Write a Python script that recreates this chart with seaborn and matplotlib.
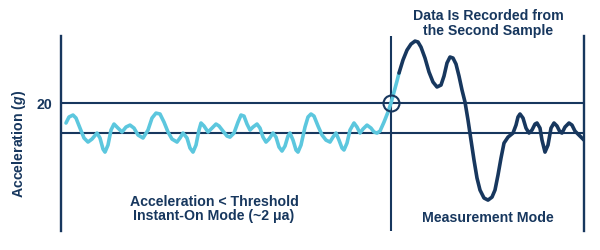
import matplotlib
matplotlib.use("Agg")
import matplotlib.pyplot as plt
import seaborn as sns
import pandas as pd

# ---- data (time in samples, acceleration in g) ----
idle_t = [5, 8, 12, 15, 19, 23, 27, 31, 36, 39, 42, 44, 47, 50, 53, 57, 61, 65, 69, 73,
          77, 82, 87, 91, 95, 99, 103, 107, 111, 116, 119, 122, 126, 129, 132, 135, 138, 140,
          143, 147, 151, 155, 158, 162, 166, 169, 173, 177, 180, 183, 186, 189, 192, 196, 199,
          202, 205, 208, 212, 215, 218, 221, 224, 227, 229, 232, 235, 237, 240, 244, 247, 250,
          253, 257, 261, 265, 269, 272, 275, 278, 281, 283, 286, 289, 293, 296, 299, 302, 306,
          310, 313, 316, 319, 323, 327, 330, 333, 336, 338]
idle_a = [6.7, 10.7, 12.0, 10.0, 3.3, -3.3, -6.0, -4.0, 0.0, -3.3, -10.7, -12.7, -8.0, 2.0,
          6.0, 3.3, 0.7, 4.0, 5.3, 3.3, -1.3, -3.3, 2.0, 10.0, 13.3, 12.7, 7.3, 0.7, -4.0, -6.0,
          -3.3, 0.0, -3.3, -10.0, -12.7, -8.0, 2.0, 6.7, 4.7, 0.7, 3.3, 6.0, 4.7, 1.3, -2.0,
          -2.7, 0.0, 7.3, 12.0, 11.3, 6.0, 2.0, 4.0, 6.0, 3.3, -2.7, -6.0, -4.0, 0.0, -2.7,
          -9.3, -12.0, -8.7, -2.0, 0.0, -4.7, -11.3, -12.7, -8.0, 4.0, 10.7, 12.7, 11.3, 4.7,
          -1.3, -4.7, -6.0, -2.7, 0.0, -4.7, -10.0, -11.3, -6.7, 2.0, 6.7, 4.0, 0.0, 2.7, 5.3,
          3.3, 0.7, 0.0, 1.3, 7.3, 14.0, 20.0, 27.3, 34.7, 40.0]

meas_t = [338, 342, 346, 350, 354, 357, 360, 364, 368, 372, 376, 380, 383, 386, 389, 392,
          395, 398, 401, 404, 407, 410, 413, 416, 419, 423, 427, 431, 434, 437, 440, 443, 447,
          452, 455, 457, 459, 462, 465, 468, 471, 474, 476, 479, 481, 484, 487, 490, 493, 496,
          499, 501, 504, 508, 511, 514, 517, 520, 523]
meas_a = [40.0, 48.7, 55.3, 59.3, 61.3, 60.7, 57.3, 50.0, 40.7, 34.0, 30.7, 32.0, 38.0, 46.7,
          50.7, 50.0, 46.0, 38.0, 28.7, 20.7, 8.7, -4.7, -18.0, -30.0, -38.0, -43.3, -44.7,
          -42.7, -38.0, -28.0, -16.7, -6.7, -2.7, 0.0, 5.3, 10.7, 12.7, 10.0, 3.3, 0.0, 2.0,
          6.0, 6.7, 3.3, -4.7, -12.7, -8.0, 3.3, 6.7, 4.7, 0.7, 0.0, 4.0, 6.7, 5.3, 1.3, -0.7,
          -2.7, -4.7]

threshold = 20
baseline = 0
trigger_t = 330
end_t = 523
ytick_vals = [20]
ytick_labels = ["20"]

# ---- style ----
sns.set_style("white")
plt.rcParams["font.family"] = ["Liberation Sans", "DejaVu Sans"]
plt.rcParams["mathtext.fontset"] = "custom"
plt.rcParams["mathtext.it"] = "Liberation Sans:italic:bold"
plt.rcParams["mathtext.rm"] = "Liberation Sans:bold"

NAVY = "#17375e"
CYAN = "#5cc7de"
FS = 10.2

fig = plt.figure(figsize=(6, 2.5), dpi=100)
ax = fig.add_axes([61 / 600, 19 / 250, 523 / 600, 195 / 250])

df_idle = pd.DataFrame({"t": idle_t, "a": idle_a})
df_meas = pd.DataFrame({"t": meas_t, "a": meas_a})

ax.axhline(threshold, color=NAVY, lw=1.5, zorder=1)
ax.axhline(baseline, color=NAVY, lw=1.5, zorder=1)
ax.axvline(trigger_t, color=NAVY, lw=1.5, zorder=1)

sns.lineplot(data=df_idle, x="t", y="a", ax=ax, color=CYAN, lw=2.6, sort=False,
             solid_capstyle="round", solid_joinstyle="round", zorder=3)
sns.lineplot(data=df_meas, x="t", y="a", ax=ax, color=NAVY, lw=2.6, sort=False,
             solid_capstyle="round", solid_joinstyle="round", zorder=3)

ax.plot([trigger_t], [threshold], marker="o", ms=11.5, mfc="none", mec=NAVY, mew=1.5,
        zorder=4, clip_on=False)

ax.set_xlim(0, end_t)
ax.set_ylim(-65.3, 64.7)

for s in ["top", "bottom"]:
    ax.spines[s].set_visible(False)
for s in ["left", "right"]:
    ax.spines[s].set_color(NAVY)
    ax.spines[s].set_linewidth(1.7)

ax.set_xticks([])
ax.set_yticks(ytick_vals)
ax.set_yticklabels(ytick_labels, fontsize=FS, fontweight="bold", color=NAVY)
ax.tick_params(axis="y", length=0, pad=6)
ax.set_xlabel("")
ax.set_ylabel(r"Acceleration ($\mathit{g}$)", fontsize=FS, fontweight="bold", color=NAVY)
ax.yaxis.set_label_coords(-0.063, 0.445)

ax.text(427, 73, "Data Is Recorded from\nthe Second Sample", ha="center", va="center",
        fontsize=FS, fontweight="bold", color=NAVY, linespacing=1.05, clip_on=False)
ax.text(153, -50.7, "Acceleration < Threshold\nInstant-On Mode (~2 μa)", ha="center",
        va="center", fontsize=FS, fontweight="bold", color=NAVY, linespacing=1.05)
ax.text(427, -56.7, "Measurement Mode", ha="center", va="center",
        fontsize=FS, fontweight="bold", color=NAVY)

fig.savefig("out.png", dpi=100)
